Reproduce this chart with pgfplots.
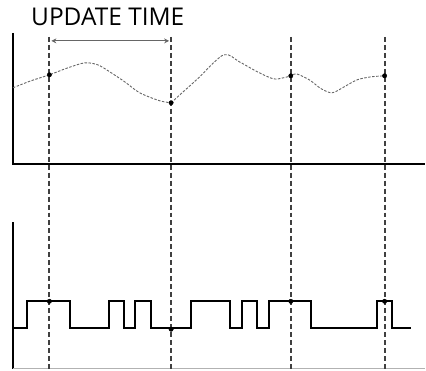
\documentclass[border=0pt]{standalone}
\usepackage{pgfplots}
\pgfplotsset{compat=1.18}
\usepackage{fontspec}
\setmainfont{Open Sans}
\usetikzlibrary{arrows.meta}
\begin{document}
\begin{tikzpicture}
\begin{axis}[
  scale only axis, width=426pt, height=370pt,
  xmin=0, xmax=426, ymin=0, ymax=370, y dir=reverse,
  hide axis, clip=false, enlargelimits=false,
]
% invisible frame for bounding box
\addplot[draw=none] coordinates {(0,0) (426,370)};
% title
\node[anchor=base, inner sep=0pt] at (axis cs:108,26) {\fontsize{24.5}{28}\selectfont UPDATE TIME};
% update-time arrow
\addplot[gray!80!black, line width=1.2pt, {Stealth[length=5pt,width=5pt]}-{Stealth[length=5pt,width=5pt]}] coordinates {(51.5,41) (169.5,41)};
% top axes
\addplot[black, line width=2pt] coordinates {(13.5,33) (13.5,164) (426,164)};
% bottom axes
\addplot[black, line width=2pt] coordinates {(13.5,223) (13.5,370)};
\addplot[black!30, line width=1pt] coordinates {(13,369) (426,369)};
% vertical dashed update lines
\addplot[black!75, line width=1.8pt, dash pattern=on 5pt off 3pt] coordinates {(49.5,37) (49.5,370)};
\addplot[black!75, line width=1.8pt, dash pattern=on 5pt off 3pt] coordinates {(171.5,37) (171.5,370)};
\addplot[black!75, line width=1.8pt, dash pattern=on 5pt off 3pt] coordinates {(291.5,37) (291.5,370)};
\addplot[black!75, line width=1.8pt, dash pattern=on 5pt off 3pt] coordinates {(385.5,37) (385.5,370)};
% analog signal (dotted curve)
\addplot[black!60, line width=0.9pt, dash pattern=on 2.5pt off 1.5pt, smooth, tension=0.5] coordinates {
 (13,88) (31,81) (49.5,75) (68,68) (85,63) (98,65) (110,72) (125,82) (140,93) (160,101) (171.5,103)
};
\addplot[black!60, line width=0.9pt, dash pattern=on 2.5pt off 1.5pt, smooth, tension=0.5] coordinates {
 (171.5,103) (198,79) (224,55) (240,62) (258,72) (274,79) (284,78) (291.5,76) (297,74)
 (310,80) (322,89) (333,93) (345,87) (358,80) (372,77) (385.5,76)
};
% sampled dots
\addplot[only marks, mark=*, mark size=2.2pt, black] coordinates {(49.5,75) (171.5,103) (291.5,76) (385.5,76)};
% digital signal
\addplot[black, line width=2pt, const plot] coordinates {
 (13,329) (27,302) (70,329) (109,302) (124,329) (135,302) (151,329) (191,302)
 (231,329) (243,302) (258,329) (270,302) (312,329) (378,302) (393,329) (412,329)
};
\addplot[only marks, mark=*, mark size=2.2pt, black] coordinates {(49.5,302) (171.5,330) (291.5,302) (385.5,302)};
\end{axis}
\end{tikzpicture}
\end{document}
